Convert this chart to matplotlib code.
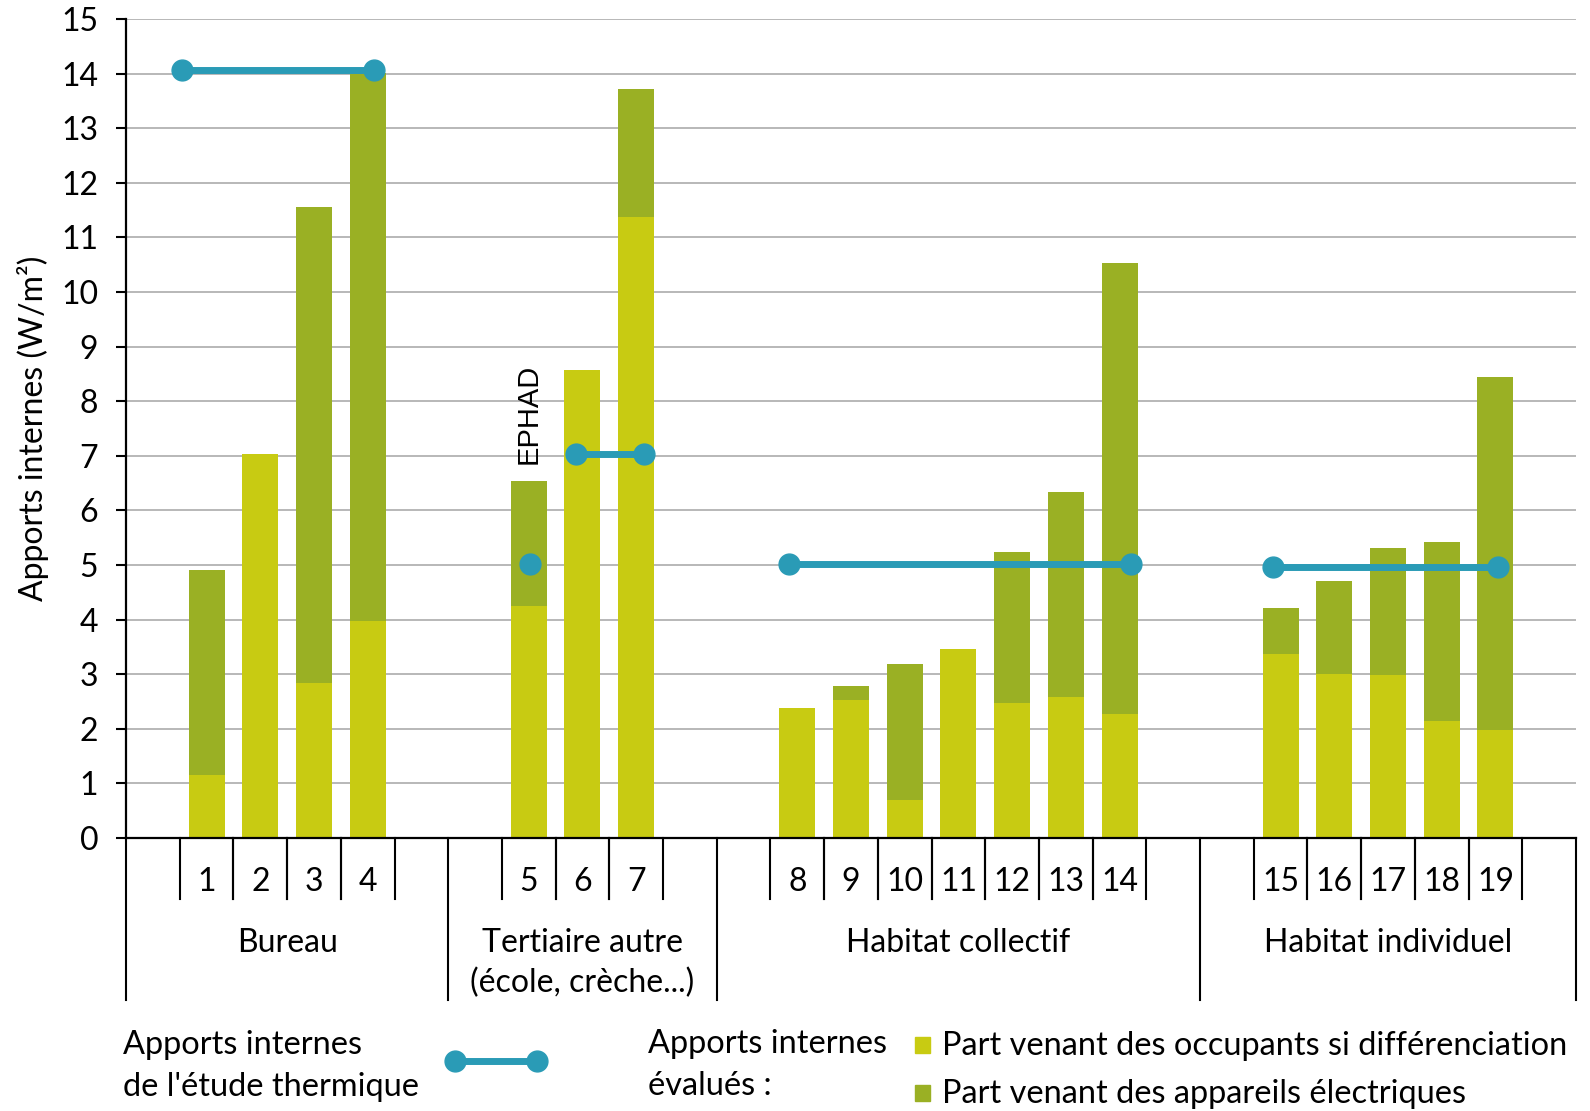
import numpy as np
import matplotlib.pyplot as plt
from matplotlib.lines import Line2D
from matplotlib.patches import Rectangle
from matplotlib.transforms import blended_transform_factory

plt.rcParams['font.family'] = ['Lato', 'DejaVu Sans']

# groupes de batiments (nombre de cas par groupe)
groupes = ["Bureau", "Tertiaire autre\n(école, crèche...)", "Habitat collectif", "Habitat individuel"]
nb_cas = [4, 3, 7, 5]
numeros = [str(i) for i in range(1, 20)]

# apports internes evalues (W/m2)
occupants = [1.16, 7.04, 2.84, 3.98, 4.24, 8.57, 11.37,
             2.38, 2.53, 0.70, 3.47, 2.48, 2.58, 2.27,
             3.37, 3.00, 2.99, 2.14, 1.98]
totaux = [4.90, 7.04, 11.56, 14.02, 6.54, 8.57, 13.72,
          2.38, 2.79, 3.18, 3.47, 5.23, 6.34, 10.53,
          4.21, 4.70, 5.32, 5.43, 8.44]

# apports internes de l'etude thermique (positions en unites de categorie)
etude_x = [[0.54, 4.12], [7.03], [7.87, 9.15], [11.84, 18.21], [20.85, 25.04]]
etude_y = [[14.06, 14.06], [5.01], [7.03, 7.03], [5.02, 5.02], [4.97, 4.97]]

c_occ = "#C8CB12"
c_app = "#9AB024"
c_bleu = "#2A9BB6"
fs = 23

# positions des barres : une case vide de chaque cote de chaque groupe
positions = []
bornes = [-0.5]
debut = 0
for n in nb_cas:
    positions += list(range(debut + 1, debut + 1 + n))
    debut += n + 2
    bornes.append(debut - 0.5)
positions = np.array(positions)
nb_cases = debut

occupants = np.array(occupants)
totaux = np.array(totaux)
appareils = totaux - occupants

W, H = 1590, 1111
fig = plt.figure(figsize=(W / 100, H / 100), dpi=100)
ax = fig.add_axes([126 / W, 1 - 838 / H, 1450 / W, 819 / H])

ax.bar(positions, occupants, width=0.67, color=c_occ, zorder=2)
ax.bar(positions, appareils, bottom=occupants, width=0.67, color=c_app, zorder=2)

for xs, ys in zip(etude_x, etude_y):
    ax.plot(xs, ys, color=c_bleu, lw=5, marker="o", markersize=15, zorder=3,
            solid_capstyle="butt")

ax.text(positions[4], 6.85, "EPHAD", rotation=90, ha="center", va="bottom",
        fontsize=21, family="Liberation Sans")

ax.set_xlim(-0.5, nb_cases - 0.5)
ax.set_ylim(0, 15)
ax.set_yticks(range(0, 16))
ax.yaxis.grid(True, color="#ABABAB", lw=1.2)
ax.set_axisbelow(True)
ax.tick_params(axis="y", length=7, width=1.5, pad=13, labelsize=fs)
ax.set_xticks([])
for s in ["top", "right"]:
    ax.spines[s].set_visible(False)
ax.spines["left"].set_linewidth(1.6)
ax.spines["bottom"].set_linewidth(1.6)
ax.set_ylabel("Apports internes (W/m²)", fontsize=fs)
ax.yaxis.set_label_coords(-0.053, 0.5)

# axe des categories en deux niveaux
tr = blended_transform_factory(ax.transData, ax.transAxes)
haut_px = 819
for p, num in zip(positions, numeros):
    for b in (p - 0.5, p + 0.5):
        ax.plot([b, b], [0, -61 / haut_px], color="black", lw=1.5, transform=tr, clip_on=False)
    ax.text(p, -44 / haut_px, num, ha="center", va="center", fontsize=fs, transform=tr)
for b in bornes:
    ax.plot([b, b], [0, -162 / haut_px], color="black", lw=1.5, transform=tr, clip_on=False)
for i, nom in enumerate(groupes):
    centre = (bornes[i] + bornes[i + 1]) / 2
    for k, ligne in enumerate(nom.split("\n")):
        ax.text(centre, -(105 + 40 * k) / haut_px, ligne, ha="center", va="center",
                fontsize=fs, transform=tr)

# legende
def fy(py):
    return 1 - py / H

fl = 23.4
fig.text(123 / W, fy(1045), "Apports internes", fontsize=fl, va="center")
fig.text(123 / W, fy(1087), "de l'étude thermique", fontsize=fl, va="center")
fig.add_artist(Line2D([455 / W, 537 / W], [fy(1061), fy(1061)], color=c_bleu, lw=5,
                      marker="o", markersize=15, transform=fig.transFigure))
fig.text(648 / W, fy(1044), "Apports internes", fontsize=fl, va="center")
fig.text(648 / W, fy(1086), "évalués :", fontsize=fl, va="center")
fig.add_artist(Rectangle((915 / W, fy(1053)), 15 / W, 16 / H, color=c_occ,
                         transform=fig.transFigure))
fig.add_artist(Rectangle((915 / W, fy(1101)), 15 / W, 16 / H, color=c_app,
                         transform=fig.transFigure))
fig.text(942 / W, fy(1046), "Part venant des occupants si différenciation", fontsize=fl, va="center")
fig.text(942 / W, fy(1094), "Part venant des appareils électriques", fontsize=fl, va="center")

fig.savefig("out.png", dpi=100)
